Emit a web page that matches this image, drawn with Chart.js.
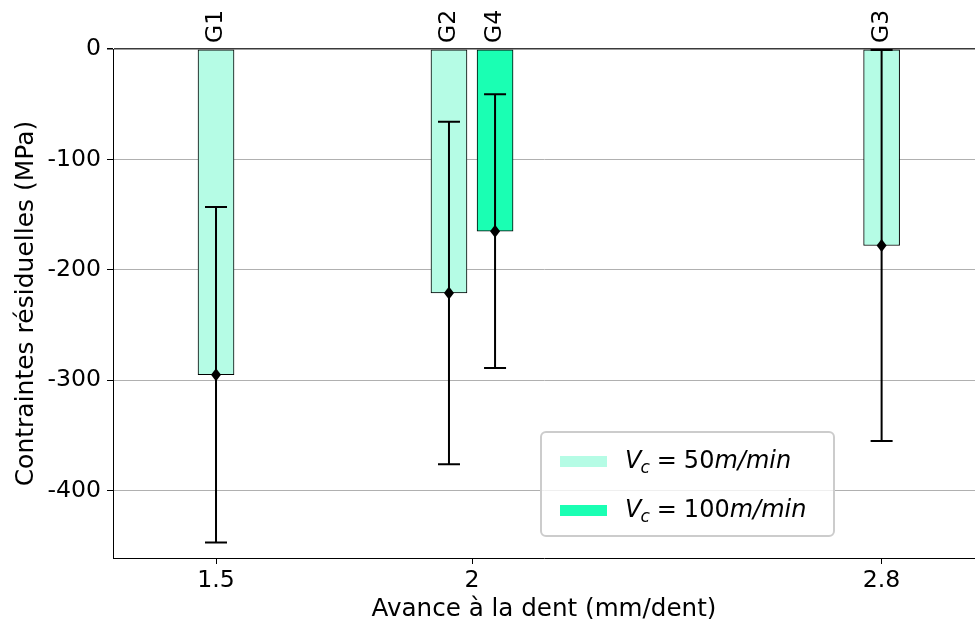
<!DOCTYPE html>
<html>
<head>
<meta charset="utf-8">
<script src="https://cdn.jsdelivr.net/npm/chart.js@4.4.1/dist/chart.umd.min.js"></script>
<style>
  html, body { margin: 0; padding: 0; background: #fff; }
</style>
</head>
<body>
<canvas id="chart" width="975" height="623"></canvas>
<script>
// data
const groupes = ['G1', 'G2', 'G4', 'G3'];
const avances = [1.5, 2, 2, 2.8];          // mm/dent
const vitesses = [50, 50, 100, 50];        // Vc, m/min
const contraintes = [-295, -221, -165, -178]; // MPa
const ecarts = [152, 155, 124, 177];       // error bar half-length, MPa
const xTicks = [1.5, 2, 2.8];
const yTicks = [-400, -300, -200, -100, 0];
const legendVitesses = [50, 100];

const FONT = '"DejaVu Sans", sans-serif';
const couleurs = { 50: '#b5fce5', 100: '#1affb3' };
const decalage = 0.045; // side shift when two bars share the same feed

function positionBarre(i) {
    const memeAvance = avances.filter(a => a === avances[i]).length > 1;
    if (!memeAvance) return avances[i];
    return avances[i] + (vitesses[i] === 50 ? -decalage : decalage);
}

const datasets = legendVitesses.map(v => ({
    label: 'Vc = ' + v + 'm/min',
    data: groupes
        .map((g, i) => ({ x: positionBarre(i), y: contraintes[i], v: vitesses[i] }))
        .filter(p => p.v === v),
    backgroundColor: couleurs[v],
    borderColor: '#000',
    borderWidth: 1,
    borderSkipped: false,
    barThickness: 36,
    grouped: false
}));

// error bars, diamond markers and group names
const errorBars = {
    id: 'errorBars',
    afterDatasetsDraw(chart) {
        const { ctx, scales: { x, y }, chartArea } = chart;
        ctx.save();
        ctx.strokeStyle = '#000';
        ctx.fillStyle = '#000';
        ctx.lineWidth = 2;
        groupes.forEach((g, i) => {
            const px = x.getPixelForValue(positionBarre(i));
            const py = y.getPixelForValue(contraintes[i]);
            const haut = y.getPixelForValue(contraintes[i] + ecarts[i]);
            const bas = y.getPixelForValue(contraintes[i] - ecarts[i]);
            ctx.beginPath();
            ctx.moveTo(px, haut); ctx.lineTo(px, bas);
            ctx.moveTo(px - 11, haut); ctx.lineTo(px + 11, haut);
            ctx.moveTo(px - 11, bas); ctx.lineTo(px + 11, bas);
            ctx.stroke();

            ctx.beginPath();
            ctx.moveTo(px, py - 6.5);
            ctx.lineTo(px + 5, py);
            ctx.lineTo(px, py + 6.5);
            ctx.lineTo(px - 5, py);
            ctx.closePath();
            ctx.fill();

            ctx.save();
            ctx.translate(px, chartArea.top - 6);
            ctx.rotate(-Math.PI / 2);
            ctx.font = '23.6px ' + FONT;
            ctx.textAlign = 'left';
            ctx.textBaseline = 'middle';
            ctx.fillText(g, 0, 0);
            ctx.restore();
        });
        ctx.restore();
    }
};

// legend box with V_c subscript
const legendBox = {
    id: 'legendBox',
    afterDraw(chart) {
        const ctx = chart.ctx;
        ctx.save();
        ctx.beginPath();
        ctx.roundRect(541, 432, 293, 104, 5);
        ctx.fillStyle = 'rgba(255,255,255,0.8)';
        ctx.fill();
        ctx.strokeStyle = '#cccccc';
        ctx.lineWidth = 2;
        ctx.stroke();

        legendVitesses.forEach((v, k) => {
            const base = 468 + k * 49;
            ctx.fillStyle = couleurs[v];
            ctx.fillRect(560, base - 12, 47, 11);

            ctx.fillStyle = '#000';
            ctx.textBaseline = 'alphabetic';
            ctx.textAlign = 'left';
            let x = 625;
            ctx.font = 'italic 24px ' + FONT;
            ctx.fillText('V', x, base);
            x += ctx.measureText('V').width - 1;
            ctx.font = 'italic 17px ' + FONT;
            ctx.fillText('c', x, base + 5);
            x += ctx.measureText('c').width + 7;
            ctx.font = '24px ' + FONT;
            ctx.fillText('=', x, base);
            x += ctx.measureText('=').width + 7;
            ctx.fillText(String(v), x, base);
            x += ctx.measureText(String(v)).width;
            ctx.font = 'italic 24px ' + FONT;
            ctx.fillText('m/min', x, base);
        });
        ctx.restore();
    }
};

new Chart(document.getElementById('chart'), {
    type: 'bar',
    data: { datasets },
    options: {
        responsive: false,
        animation: false,
        layout: { padding: { top: 49, right: 0, left: 0, bottom: 0 } },
        plugins: {
            legend: { display: false },
            tooltip: { enabled: false }
        },
        scales: {
            x: {
                type: 'linear',
                min: 1.2988,
                max: 2.9824,
                offset: false,
                afterBuildTicks: scale => { scale.ticks = xTicks.map(v => ({ value: v })); },
                afterFit: scale => { scale.height = 65; },
                grid: {
                    offset: false,
                    drawOnChartArea: false,
                    drawTicks: true,
                    tickLength: 6,
                    tickColor: '#000'
                },
                border: { display: true, color: '#000', width: 1 },
                ticks: {
                    color: '#000',
                    padding: 3,
                    maxRotation: 0,
                    font: { family: FONT, size: 23.6 },
                    callback: v => String(v)
                },
                title: {
                    display: true,
                    text: 'Avance à la dent (mm/dent)',
                    color: '#000',
                    font: { family: FONT, size: 24.6, lineHeight: 1 },
                    padding: { top: 0, bottom: 1 }
                }
            },
            y: {
                min: -461,
                max: 0,
                afterBuildTicks: scale => { scale.ticks = yTicks.map(v => ({ value: v })); },
                afterFit: scale => { scale.width = 113; },
                grid: {
                    color: ctx => ctx.tick && ctx.tick.value === 0 ? '#3a3a3a' : '#b0b0b0',
                    lineWidth: ctx => ctx.tick && ctx.tick.value === 0 ? 1.5 : 1,
                    drawTicks: true,
                    tickLength: 6,
                    tickColor: '#000'
                },
                border: { display: true, color: '#000', width: 1 },
                ticks: {
                    color: '#000',
                    padding: 6,
                    font: { family: FONT, size: 23.6 },
                    callback: v => String(v)
                },
                title: {
                    display: true,
                    text: 'Contraintes résiduelles (MPa)',
                    color: '#000',
                    font: { family: FONT, size: 25, lineHeight: 1 },
                    padding: { top: 14, bottom: 0 }
                }
            }
        }
    },
    plugins: [errorBars, legendBox]
});
</script>
</body>
</html>
